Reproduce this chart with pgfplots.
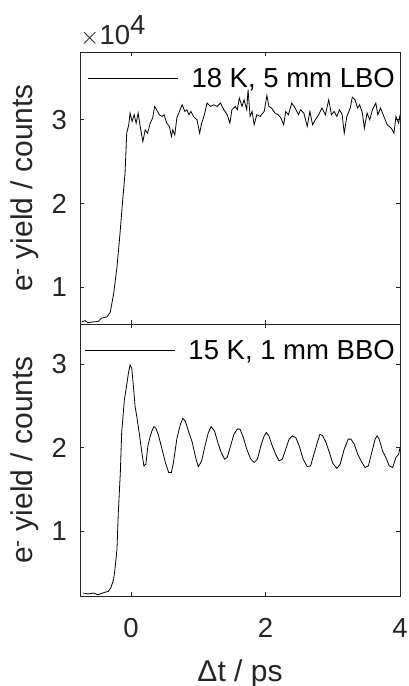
\documentclass[border=0pt]{standalone}
\usepackage{pgfplots}
\pgfplotsset{compat=1.18}
\usepackage{pgfplotstable}
\usepackage{fontspec}
\setmainfont{Liberation Sans}
\definecolor{axgray}{RGB}{38,38,38}

\pgfplotstableread{
x y
-0.735 0.586
-0.685 0.60
-0.64 0.575
-0.56 0.586
-0.49 0.59
-0.44 0.63
-0.36 0.645
-0.31 0.70
-0.26 0.92
-0.21 1.24
-0.165 1.64
-0.125 2.04
-0.09 2.36
-0.065 2.84
-0.035 2.94
-0.015 3.08
0.015 2.98
0.045 3.06
0.075 2.96
0.105 3.08
0.135 2.92
0.175 2.74
0.21 2.88
0.245 2.84
0.285 2.96
0.32 3.02
0.35 3.16
0.38 3.12
0.42 3.06
0.46 3.04
0.49 3.06
0.53 2.96
0.57 2.92
0.60 2.80
0.62 2.88
0.65 2.82
0.68 3.02
0.73 3.12
0.76 3.18
0.80 3.10
0.83 3.12
0.86 3.06
0.89 3.10
0.93 3.04
0.98 3.00
1.02 2.84
1.05 2.96
1.09 3.06
1.13 3.20
1.18 3.16
1.23 3.18
1.28 3.16
1.33 3.20
1.38 3.12
1.43 3.06
1.47 2.96
1.50 3.12
1.55 3.16
1.58 3.12
1.61 3.26
1.65 3.16
1.68 3.24
1.72 3.12
1.74 3.36
1.77 3.04
1.80 3.10
1.83 2.94
1.87 3.06
1.92 3.04
1.98 3.10
2.02 3.29
2.05 3.16
2.09 3.14
2.14 3.08
2.19 3.06
2.23 3.02
2.27 2.94
2.30 3.10
2.34 3.06
2.39 3.20
2.44 3.14
2.49 3.06
2.52 3.12
2.57 3.08
2.62 2.92
2.66 3.10
2.70 2.94
2.74 3.00
2.79 3.06
2.84 3.14
2.89 3.06
2.94 3.24
2.98 3.06
3.02 3.10
3.06 3.04
3.10 3.12
3.14 3.06
3.17 2.84
3.21 3.04
3.26 3.14
3.29 3.27
3.33 3.24
3.37 3.14
3.40 3.18
3.44 3.08
3.47 2.90
3.51 3.08
3.55 3.00
3.59 3.12
3.64 3.20
3.67 3.06
3.71 3.14
3.76 3.04
3.81 2.94
3.87 2.90
3.91 2.84
3.94 3.04
3.98 2.96
4.00 3.06
}\topdata

\pgfplotstableread{
x y
-0.71 0.255
-0.64 0.245
-0.56 0.255
-0.49 0.235
-0.41 0.26
-0.34 0.275
-0.30 0.32
-0.26 0.42
-0.24 0.54
-0.21 0.78
-0.19 1.22
-0.16 1.70
-0.14 2.18
-0.10 2.57
-0.065 2.75
-0.04 2.89
-0.015 2.99
0.01 2.95
0.035 2.73
0.06 2.49
0.085 2.37
0.12 2.18
0.16 1.94
0.19 1.78
0.22 1.80
0.25 2.02
0.28 2.12
0.31 2.20
0.34 2.25
0.37 2.23
0.41 2.14
0.46 1.98
0.51 1.82
0.56 1.70
0.60 1.70
0.63 1.82
0.68 2.10
0.73 2.27
0.77 2.35
0.81 2.31
0.86 2.18
0.91 2.06
0.96 1.88
1.00 1.77
1.05 1.84
1.10 2.02
1.15 2.18
1.19 2.25
1.24 2.20
1.29 2.06
1.34 1.94
1.39 1.86
1.43 1.88
1.48 2.02
1.53 2.16
1.58 2.22
1.62 2.22
1.67 2.12
1.72 1.98
1.78 1.86
1.83 1.82
1.88 1.86
1.93 2.02
1.98 2.14
2.01 2.18
2.05 2.14
2.10 2.02
2.15 1.92
2.20 1.84
2.25 1.86
2.30 1.98
2.35 2.10
2.40 2.14
2.45 2.12
2.50 2.02
2.56 1.86
2.62 1.77
2.67 1.78
2.72 1.92
2.77 2.06
2.81 2.16
2.85 2.14
2.90 2.06
2.95 1.94
3.00 1.81
3.06 1.75
3.11 1.80
3.17 1.98
3.23 2.10
3.27 2.10
3.32 2.04
3.37 1.92
3.42 1.84
3.48 1.76
3.53 1.78
3.58 1.94
3.63 2.10
3.66 2.14
3.69 2.10
3.74 1.96
3.79 1.88
3.84 1.78
3.89 1.76
3.94 1.88
3.98 1.92
4.00 2.00
}\botdata

\pgfplotsset{
  panel/.style={
    width=320pt, height=272pt, scale only axis,
    xmin=-0.76, xmax=4,
    axis line style={axgray, line width=0.7pt},
    every tick/.style={axgray, line width=0.7pt},
    major tick length=4pt,
    xtick={0,2,4}, ytick={1,2,3},
    tick label style={font=\fontsize{27.5}{33}\selectfont, text=axgray},
    /pgf/number format/assume math mode=true,
    yticklabel style={inner sep=0pt, xshift=-13pt},
    ylabel={e\textsuperscript{-} yield / counts},
    ylabel style={font=\fontsize{30}{36}\selectfont, text=axgray,
      at={(axis description cs:-0.128,0.5)}, anchor=south, inner sep=0pt},
    legend style={draw=none, fill=none, font=\fontsize{27.5}{33}\selectfont,
      text=black, at={(1,0.955)}, anchor=north east},
    legend image code/.code={\draw[##1] (0pt,0pt) -- (90pt,0pt); \path (101pt,0pt);},
  }
}

\begin{document}
\begin{tikzpicture}
\useasboundingbox (-80pt,-362pt) rectangle (329pt,324pt);
\begin{axis}[panel, name=top, at={(0,0)}, anchor=south west,
  ymin=0.56, ymax=3.81, xticklabels={}]
\addplot[black, line width=0.8pt] table[x=x, y=y] {\topdata};
\addlegendentry{18 K, 5 mm LBO}
\end{axis}
\node[anchor=base west, font=\fontsize{27.5}{33}\selectfont, text=axgray, inner sep=0pt]
  at ([xshift=0pt,yshift=7pt]top.north west) {$\times$10\raisebox{10pt}{4}};
\begin{axis}[panel, at={(top.south west)}, anchor=north west,
  ymin=0.22, ymax=3.48,
  xticklabel style={inner sep=0pt, yshift=-22pt},
  xlabel={Δt / ps},
  xlabel style={font=\fontsize{30}{36}\selectfont, text=axgray,
    at={(axis description cs:0.5,0)}, anchor=base, yshift=-85pt}]
\addplot[black, line width=0.8pt] table[x=x, y=y] {\botdata};
\addlegendentry{15 K, 1 mm BBO}
\end{axis}
\end{tikzpicture}
\end{document}
